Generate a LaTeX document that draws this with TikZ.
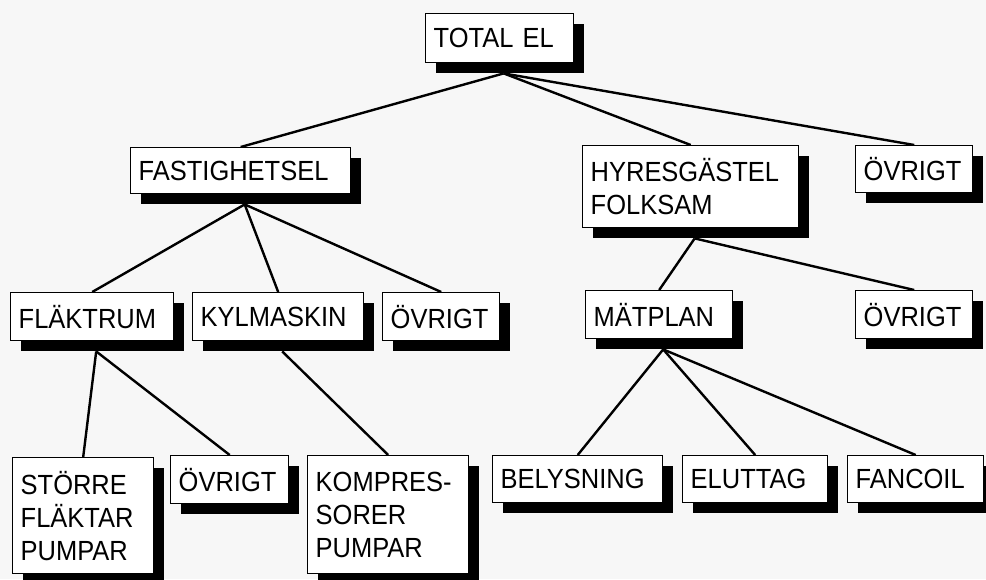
\documentclass[tikz,border=0pt]{standalone}
\usepackage{fontspec}
\setmainfont{Liberation Sans}[FakeStretch=0.92]
\usetikzlibrary{shadows,backgrounds}
\tikzset{
  box/.style={draw, line width=1.4pt, fill=white, anchor=north west, align=left,
    inner xsep=8pt, inner ysep=0pt, font=\fontsize{27.7}{33}\selectfont,
    drop shadow={shadow xshift=10pt, shadow yshift=-10pt, fill=black, opacity=1}},
  link/.style={line width=2.4pt}
}
\begin{document}
\begin{tikzpicture}[x=1pt, y=-1pt]
  \useasboundingbox (0,0) rectangle (986,579);
  % boxes: top left corner, then size
  \node[box, text width=132pt, minimum height=49pt] (total) at (425,13) {TOTAL EL};
  \node[box, text width=204pt, minimum height=46pt] (fast) at (130,147) {FASTIGHETSEL};
  \node[box, text width=200pt, minimum height=82pt] (hyres) at (582,145) {HYRESGÄSTEL\\FOLKSAM};
  \node[box, text width=101pt, minimum height=47pt] (ovrA) at (855,145) {ÖVRIGT};
  \node[box, text width=147pt, minimum height=48pt] (flakt) at (10,292) {FLÄKTRUM};
  \node[box, text width=155pt, minimum height=48pt] (kyl) at (192,292) {KYLMASKIN};
  \node[box, text width=101pt, minimum height=48pt] (ovrB) at (382,292) {ÖVRIGT};
  \node[box, text width=131pt, minimum height=48pt] (matp) at (585,290) {MÄTPLAN};
  \node[box, text width=101pt, minimum height=48pt] (ovrC) at (855,290) {ÖVRIGT};
  \node[box, text width=125pt, minimum height=116pt] (storre) at (12,457) {STÖRRE\\FLÄKTAR\\PUMPAR};
  \node[box, text width=102pt, minimum height=48pt] (ovrD) at (170,455) {ÖVRIGT};
  \node[box, text width=145pt, minimum height=118pt] (komp) at (307,455) {KOMPRES-\\SORER\\PUMPAR};
  \node[box, text width=154pt, minimum height=47pt] (bel) at (492,455) {BELYSNING};
  \node[box, text width=129pt, minimum height=47pt] (elu) at (682,455) {ELUTTAG};
  \node[box, text width=120pt, minimum height=47pt] (fan) at (847,455) {FANCOIL};
  % connectors behind the boxes
  \begin{pgfonlayer}{background}
    \fill[black!3] (0,0) rectangle (986,579);
    \foreach \a/\b in {total/fast, total/hyres, total/ovrA,
                       fast/flakt, fast/kyl, fast/ovrB,
                       hyres/matp, hyres/ovrC,
                       flakt/storre, flakt/ovrD, kyl/komp,
                       matp/bel, matp/elu, matp/fan}
      \draw[link] ([xshift=4pt, yshift=-10pt]\a.south) -- (\b.north);
  \end{pgfonlayer}
\end{tikzpicture}
\end{document}
